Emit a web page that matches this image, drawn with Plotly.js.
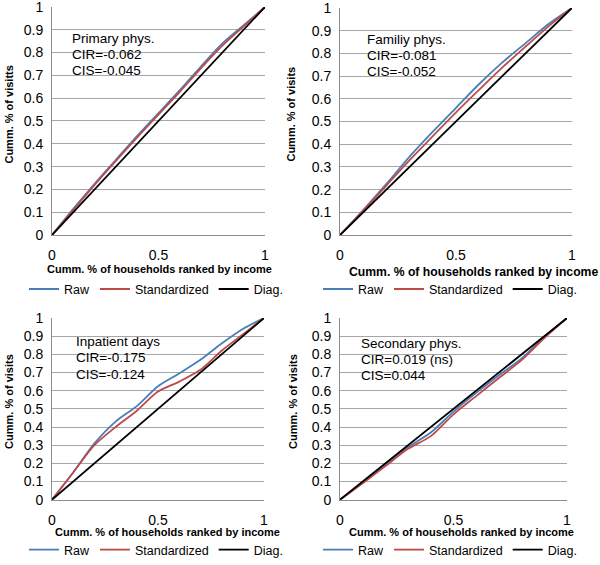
<!DOCTYPE html>
<html>
<head>
<meta charset="utf-8">
<script src="https://cdn.plot.ly/plotly-3.0.1.min.js"></script>
<style>html,body{margin:0;padding:0;background:#fff;}#chart{width:600px;height:565px;}</style>
</head>
<body>
<div id="chart"></div>
<script>
// ---- data ----
const share = [0, 0.1, 0.2, 0.3, 0.4, 0.5, 0.6, 0.7, 0.8, 0.9, 1];
const diagX = [0, 1];
const diagY = [0, 1];

const primaryRaw = [0, 0.115, 0.225, 0.33, 0.435, 0.535, 0.635, 0.74, 0.84, 0.92, 1];
const primaryStd = [0, 0.11, 0.22, 0.325, 0.428, 0.528, 0.628, 0.732, 0.83, 0.915, 1];

const familyRaw = [0, 0.11, 0.225, 0.345, 0.455, 0.56, 0.665, 0.76, 0.845, 0.93, 1];
const familyStd = [0, 0.108, 0.218, 0.33, 0.435, 0.54, 0.64, 0.738, 0.83, 0.92, 1];

const inpatientRaw = [0, 0.15, 0.31, 0.43, 0.515, 0.625, 0.695, 0.77, 0.86, 0.94, 1];
const inpatientStd = [0, 0.15, 0.30, 0.40, 0.49, 0.595, 0.65, 0.715, 0.82, 0.91, 1];

const secondaryRaw = [0, 0.095, 0.195, 0.29, 0.37, 0.485, 0.588, 0.685, 0.778, 0.895, 1];
const secondaryStd = [0, 0.09, 0.185, 0.28, 0.35, 0.47, 0.57, 0.67, 0.768, 0.89, 1];

const panelLabels = [
  ["Primary phys.", "CIR=-0.062", "CIS=-0.045"],
  ["Familiy phys.", "CIR=-0.081", "CIS=-0.052"],
  ["Inpatient days", "CIR=-0.175", "CIS=-0.124"],
  ["Secondary phys.", "CIR=0.019 (ns)", "CIS=0.044"]
];
const yTitles = ["Cumm. % of visitts", "Cumm. % of visits", "Cumm. % of visits", "Cumm. % of visits"];
const xTitle = "Cumm. % of households ranked by income";
const seriesNames = ["Raw", "Standardized", "Diag."];

// ---- styling ----
const FONT = "Liberation Sans, Arial, sans-serif";
const BLUE = "#4A7EBB", RED = "#BE4B48", BLACK = "#000000";
const W = 600, H = 565;

// plot rectangles in pixels [left, right, top, bottom]
const rects = [
  [52, 265, 7, 238],
  [340, 572, 8, 238],
  [52, 264, 322, 506],
  [340, 567, 322, 506]
];
const rawSets = [primaryRaw, familyRaw, inpatientRaw, secondaryRaw];
const stdSets = [primaryStd, familyStd, inpatientStd, secondaryStd];
const textPos = [
  [0.085, [0.86, 0.79, 0.72]],
  [0.108, [0.86, 0.79, 0.72]],
  [0.104, [0.87, 0.78, 0.69]],
  [0.084, [0.86, 0.77, 0.685]]
];
const yTitlePos = [[9, 116], [291, 116], [9, 407], [293, 407]];
const xTitlePos = [[159, 272, 11], [473, 275, 12.2], [167, 539, 11], [461, 539, 11]];
const legendPos = [[24, 293], [318, 293], [24, 557], [318, 557]];

const traces = [];
const layout = {
  width: W, height: H,
  margin: {l: 0, r: 0, t: 0, b: 0},
  paper_bgcolor: "#fff", plot_bgcolor: "#fff",
  font: {family: FONT, color: "#000"},
  annotations: [],
  showlegend: true
};

for (let i = 0; i < 4; i++) {
  const n = i === 0 ? "" : String(i + 1);
  const xa = "x" + n, ya = "y" + n;
  const lg = "legend" + n;
  const r = rects[i];
  layout["xaxis" + n] = {
    domain: [r[0] / W, r[1] / W], anchor: ya,
    range: [0, 1], dtick: 0.5, tick0: 0,
    showgrid: false, zeroline: false,
    showline: true, linecolor: "#8c8c8c", linewidth: 1,
    ticks: "", ticklabelstandoff: 7, ticklabeloverflow: "allow",
    tickfont: {size: 14, family: FONT, color: "#000"},
    fixedrange: true
  };
  layout["yaxis" + n] = {
    domain: [1 - r[3] / H, 1 - r[2] / H], anchor: xa,
    range: [0, 1], dtick: 0.1, tick0: 0,
    showgrid: true, gridcolor: "#a6a6a6", gridwidth: 1,
    zeroline: false,
    showline: true, linecolor: "#8c8c8c", linewidth: 1,
    ticks: "", ticklabelstandoff: 5, ticklabeloverflow: "allow",
    tickfont: {size: 14, family: FONT, color: "#000"},
    fixedrange: true
  };
  layout[lg] = {
    orientation: "h",
    x: legendPos[i][0] / W, y: 1 - legendPos[i][1] / H,
    xanchor: "left", yanchor: "middle",
    bgcolor: "rgba(0,0,0,0)", borderwidth: 0,
    font: {size: 12.5, family: FONT, color: "#000"},
    itemwidth: 30, itemclick: false, itemdoubleclick: false
  };

  traces.push({x: share, y: rawSets[i], type: "scatter", mode: "lines", name: seriesNames[0],
    xaxis: xa, yaxis: ya, legend: lg, line: {color: BLUE, width: 1.8, shape: "spline", smoothing: 0.8}});
  traces.push({x: share, y: stdSets[i], type: "scatter", mode: "lines", name: seriesNames[1],
    xaxis: xa, yaxis: ya, legend: lg, line: {color: RED, width: 1.8, shape: "spline", smoothing: 0.8}});
  traces.push({x: diagX, y: diagY, type: "scatter", mode: "lines", name: seriesNames[2],
    xaxis: xa, yaxis: ya, legend: lg, line: {color: BLACK, width: 1.8}});

  panelLabels[i].forEach((t, k) => {
    layout.annotations.push({
      text: t, xref: xa, yref: ya, x: textPos[i][0], y: textPos[i][1][k],
      xanchor: "left", yanchor: "middle", showarrow: false,
      font: {size: 13.5, family: FONT, color: "#000"}
    });
  });
  layout.annotations.push({
    text: yTitles[i], xref: "paper", yref: "paper",
    x: yTitlePos[i][0] / W, y: 1 - yTitlePos[i][1] / H,
    xanchor: "center", yanchor: "middle", textangle: -90, showarrow: false,
    font: {size: 11, family: FONT, color: "#000", weight: "bold"}
  });
  layout.annotations.push({
    text: xTitle, xref: "paper", yref: "paper",
    x: xTitlePos[i][0] / W, y: 1 - xTitlePos[i][1] / H,
    xanchor: "center", yanchor: "middle", showarrow: false,
    font: {size: xTitlePos[i][2], family: FONT, color: "#000", weight: "bold"}
  });
}

Plotly.newPlot("chart", traces, layout, {displayModeBar: false, staticPlot: true});
</script>
</body>
</html>
